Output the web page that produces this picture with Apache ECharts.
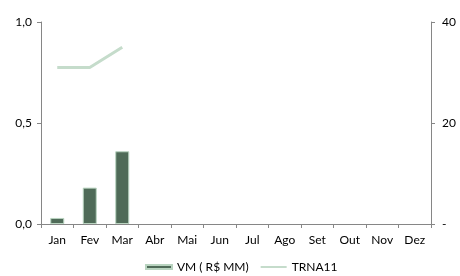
<!DOCTYPE html>
<html>
<head>
<meta charset="utf-8">
<script src="https://cdn.jsdelivr.net/npm/echarts@6/dist/echarts.min.js"></script>
<style>html,body{margin:0;padding:0;background:#fff}#chart{width:460px;height:276px}</style>
</head>
<body>
<div id="chart"></div>
<script>
var months = ['Jan','Fev','Mar','Abr','Mai','Jun','Jul','Ago','Set','Out','Nov','Dez']
var vmData = [0.03, 0.18, 0.36, null, null, null, null, null, null, null, null, null]
var trnaData = [31, 31, 35, null, null, null, null, null, null, null, null, null]

var font = 'Lato'
var axisLine = { show: true, lineStyle: { color: '#868686', width: 1 } }
var chart = echarts.init(document.getElementById('chart'))
chart.setOption({
  animation: false,
  backgroundColor: '#fff',
  grid: { left: 41, right: 29, top: 22, bottom: 52 },
  legend: {
    top: 261,
    left: 145,
    padding: 0,
    itemGap: 12,
    itemWidth: 26,
    itemHeight: 7,
    textStyle: { fontFamily: font, fontSize: 12, color: '#000' },
    data: [
      { name: 'VM ( R$ MM)', icon: 'path://M0,0M26,7M0,1.5H26V5.5H0Z' },
      { name: 'TRNA11', icon: 'path://M0,0M26,7M0,2.5H26V4.5H0Z' }
    ]
  },
  xAxis: {
    type: 'category',
    data: months,
    axisLine: axisLine,
    axisTick: { show: true, inside: false, length: 4, lineStyle: { color: '#868686' } },
    axisLabel: { fontFamily: font, fontSize: 12, color: '#000', margin: 10 }
  },
  yAxis: [
    {
      type: 'value', min: 0, max: 1, interval: 0.5,
      axisLine: axisLine,
      axisTick: { show: true, length: 4, lineStyle: { color: '#868686' } },
      splitLine: { show: false },
      axisLabel: {
        fontFamily: font, fontSize: 12, color: '#000', margin: 9,
        formatter: function (v) { return v.toFixed(1).replace('.', ',') }
      }
    },
    {
      type: 'value', min: 0, max: 40, interval: 20,
      axisLine: axisLine,
      axisTick: { show: true, length: 4, lineStyle: { color: '#868686' } },
      splitLine: { show: false },
      axisLabel: {
        fontFamily: font, fontSize: 12, color: '#000', margin: 11,
        formatter: function (v) { return v === 0 ? '-' : String(v) }
      }
    }
  ],
  series: [
    {
      name: 'VM ( R$ MM)',
      type: 'bar',
      yAxisIndex: 0,
      barWidth: 14,
      itemStyle: { color: '#4f6b58', borderColor: '#b9d4c0', borderWidth: 1 },
      data: vmData
    },
    {
      name: 'TRNA11',
      type: 'line',
      yAxisIndex: 1,
      symbol: 'none',
      lineStyle: { color: '#c5dccb', width: 3 },
      itemStyle: { color: '#c5dccb' },
      data: trnaData
    }
  ]
})
</script>
</body>
</html>
